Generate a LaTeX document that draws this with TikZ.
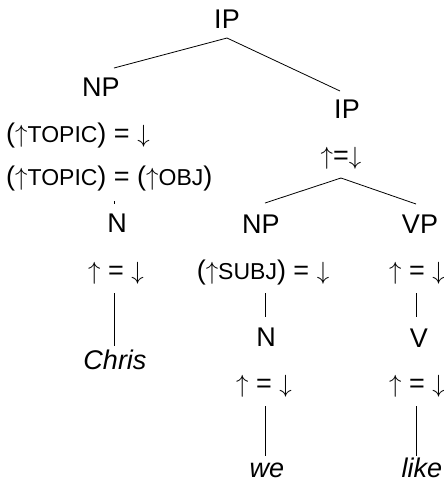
\documentclass[tikz,border=0pt]{standalone}
\usepackage{fontspec}
\setmainfont{Liberation Sans}
\newcommand{\fsc}[1]{{\fontsize{23}{23}\selectfont #1}}
\newcommand{\up}{$\uparrow$}
\newcommand{\dn}{$\downarrow$}
\tikzset{
  cat/.style={inner sep=0pt, anchor=base, font=\fontsize{27}{31}\selectfont},
  ann/.style={inner sep=0pt, anchor=base, font=\fontsize{27}{31}\selectfont},
  word/.style={inner sep=0pt, anchor=base, font=\fontsize{27}{31}\selectfont\itshape},
  branch/.style={line width=0.8pt, black}
}
\begin{document}
\begin{tikzpicture}[x=1pt,y=-1pt]
\useasboundingbox (0,0) rectangle (444,483);

% categories
\node[cat] (ip1) at (227,28) {IP};
\node[cat] (np1) at (101,96) {NP};
\node[cat] (ip2) at (347,118) {IP};
\node[cat] (n1)  at (117,232) {N};
\node[cat] (np2) at (261,233) {NP};
\node[cat] (vp)  at (420,233) {VP};
\node[cat] (n2)  at (266,346) {N};
\node[cat] (v)   at (419,347) {V};

% functional annotations
\node[ann, anchor=base west] (a-topic) at (6,142) {(\up\fsc{TOPIC}) = \dn};
\node[ann, anchor=base west] (a-obj) at (6,185) {(\up\fsc{TOPIC}) = (\up\fsc{OBJ})};
\node[ann] (a-ip2) at (341,164) {\up=\dn};
\node[ann] (a-n1)  at (116,279) {\up{} = \dn};
\node[ann] (a-np2) at (263,279) {(\up\fsc{SUBJ}) = \dn};
\node[ann] (a-vp)  at (417,279) {\up{} = \dn};
\node[ann] (a-n2)  at (264,392) {\up{} = \dn};
\node[ann] (a-v)   at (417,392) {\up{} = \dn};

% words
\node[word] (w-chris) at (115,369) {Chris};
\node[word] (w-we)    at (267,477) {we};
\node[word] (w-like)  at (422,477) {like};

% attachment points of the branches
\coordinate (ip1-b) at (227,38);
\coordinate (np1-t) at (114,68);
\coordinate (ip2-t) at (340,91);
\coordinate (ip2-b) at (341,178);
\coordinate (np2-t) at (265,203);
\coordinate (vp-t)  at (416,204);
\coordinate (np1-b) at (114,201);
\coordinate (n1-t)  at (114,204);
\coordinate (n1-b)  at (114,293);
\coordinate (chris-t) at (114,346);
\coordinate (np2-b) at (265,293);
\coordinate (n2-t)  at (265,317);
\coordinate (vp-b)  at (416,293);
\coordinate (v-t)   at (416,317);
\coordinate (n2-b)  at (265,406);
\coordinate (we-t)  at (265,456);
\coordinate (v-b)   at (416,406);
\coordinate (like-t) at (416,456);

% branches
\draw[branch] (ip1-b) -- (np1-t);
\draw[branch] (ip1-b) -- (ip2-t);
\draw[branch] (ip2-b) -- (np2-t);
\draw[branch] (ip2-b) -- (vp-t);
\draw[branch] (np1-b) -- (n1-t);
\draw[branch] (n1-b) -- (chris-t);
\draw[branch] (np2-b) -- (n2-t);
\draw[branch] (vp-b) -- (v-t);
\draw[branch] (n2-b) -- (we-t);
\draw[branch] (v-b) -- (like-t);
\end{tikzpicture}
\end{document}
